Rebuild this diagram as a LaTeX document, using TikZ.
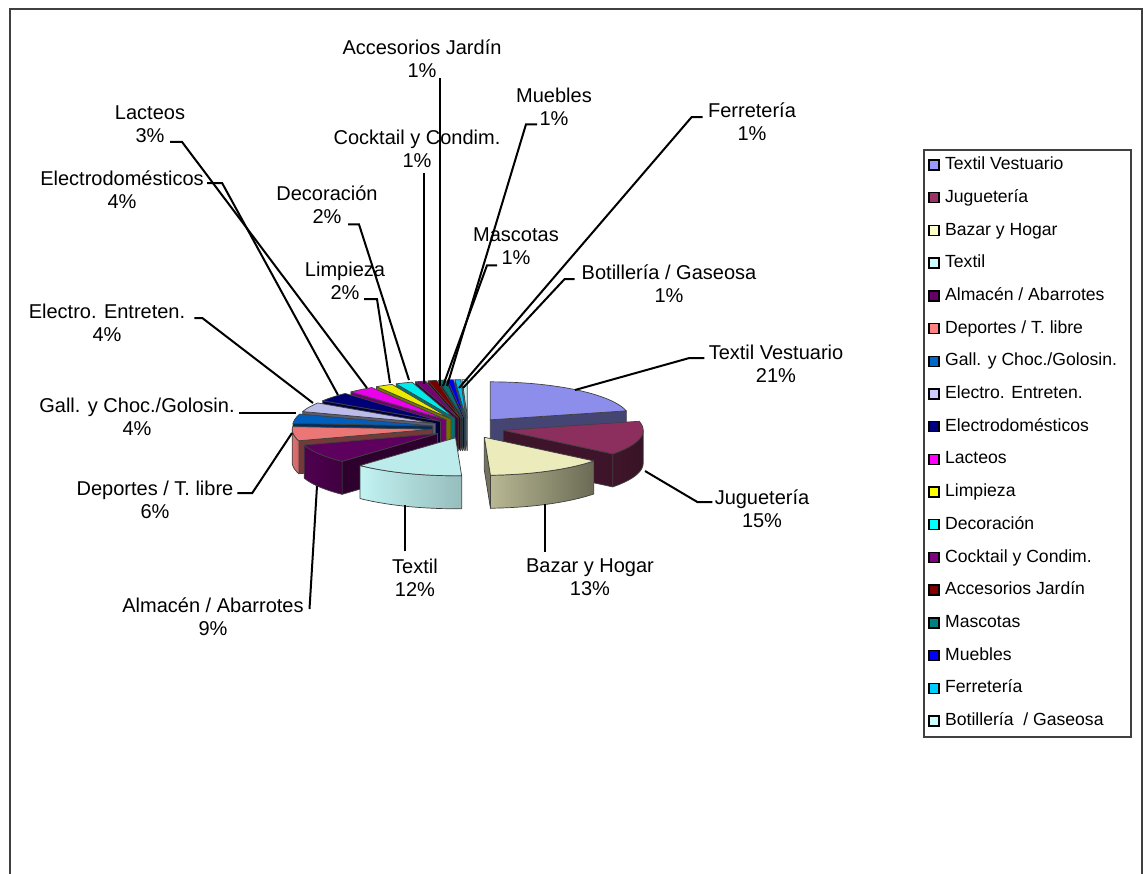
\documentclass[tikz,border=0pt]{standalone}
\usepackage{fontspec}
\setmainfont{Liberation Sans}
\usetikzlibrary{positioning}

\definecolor{cTV}{HTML}{9999FF}
\definecolor{cJug}{HTML}{993366}
\definecolor{cBaz}{HTML}{FFFFCC}
\definecolor{cTex}{HTML}{CCFFFF}
\definecolor{cAlm}{HTML}{660066}
\definecolor{cDep}{HTML}{FF8080}
\definecolor{cGal}{HTML}{0066CC}
\definecolor{cEE}{HTML}{CCCCFF}
\definecolor{cElec}{HTML}{000080}
\definecolor{cLac}{HTML}{FF00FF}
\definecolor{cLim}{HTML}{FFFF00}
\definecolor{cDec}{HTML}{00FFFF}
\definecolor{cCoc}{HTML}{800080}
\definecolor{cAcc}{HTML}{800000}
\definecolor{cMas}{HTML}{008080}
\definecolor{cMue}{HTML}{0000FF}
\definecolor{cFer}{HTML}{00CCFF}
\definecolor{cBot}{HTML}{CCFFFF}

\tikzset{
  pieedge/.style={draw=black!75, line width=0.35pt, line join=round},
  plabel/.style={font=\fontsize{10}{11.5}\selectfont, align=center, inner sep=0pt},
  leader/.style={line width=1pt},
  legkey/.style={draw=black, line width=0.7pt, minimum size=5pt, inner sep=0pt},
  legtext/.style={font=\fontsize{8.8}{10}\selectfont, inner sep=0pt,
    text height=6.4pt, text depth=1.8pt}
}

% top of a slice: from, to, colour
\newcommand{\pieTop}[3]{%
  \pgfmathsetmacro{\slmid}{(#1+#2)/2}
  \filldraw[pieedge, fill=#3!92!black] ({pcx(\slmid)},{pcy(\slmid)})
    -- plot[domain=#1:#2, samples=40, variable=\ang] ({pcx(\slmid)+140*cos(\ang)},{pcy(\slmid)-38*sin(\ang)}) -- cycle;}
% cut face of a slice: from, to, face angle, shade
\newcommand{\pieSide}[4]{%
  \pgfmathsetmacro{\slmid}{(#1+#2)/2}
  \filldraw[pieedge, fill=#4] ({pcx(\slmid)},{pcy(\slmid)})
    -- ({pcx(\slmid)+140*cos(#3)},{pcy(\slmid)-38*sin(#3)}) -- ++(0,33)
    -- ({pcx(\slmid)},{pcy(\slmid)+33}) -- cycle;}
% outer wall of a slice: from, to, wall from, wall to, left shade, right shade
\newcommand{\pieRim}[6]{%
  \pgfmathsetmacro{\slmid}{(#1+#2)/2}
  \draw[pieedge, left color=#5, right color=#6]
    plot[domain=#3:#4, samples=30, variable=\ang] ({pcx(\slmid)+140*cos(\ang)},{pcy(\slmid)-38*sin(\ang)})
    -- plot[domain=#4:#3, samples=30, variable=\ang] ({pcx(\slmid)+140*cos(\ang)},{pcy(\slmid)-38*sin(\ang)+33}) -- cycle;}

\begin{document}
\begin{tikzpicture}[x=0.5pt, y=-0.5pt,
    declare function={pcx(\m)=468+36*cos(\m); pcy(\m)=428-10.4*sin(\m);}]
    \useasboundingbox (0,0) rectangle (1144,873);
    \draw[black!75, line width=0.6pt] (10,880) -- (10,9) -- (1142,9) -- (1142,880);

    % slices, back to front
    \pieSide{90}{92.16}{92.16}{cBot!45!black} \pieTop{90}{92.16}{cBot}
    \pieSide{92.16}{94.5}{94.5}{cFer!45!black} \pieTop{92.16}{94.5}{cFer}
    \pieSide{94.5}{97.02}{97.02}{cMue!45!black} \pieTop{94.5}{97.02}{cMue}
    \pieSide{97.02}{99.9}{99.9}{cMas!45!black} \pieTop{97.02}{99.9}{cMas}
    \pieSide{99.9}{103.5}{103.5}{cAcc!45!black} \pieTop{99.9}{103.5}{cAcc}
    \pieSide{103.5}{107.82}{107.82}{cCoc!45!black} \pieTop{103.5}{107.82}{cCoc}
    \pieSide{107.82}{114.84}{114.84}{cDec!45!black} \pieTop{107.82}{114.84}{cDec}
    \pieSide{114.84}{122.04}{122.04}{cLim!45!black} \pieTop{114.84}{122.04}{cLim}
    \pieSide{122.04}{132.84}{132.84}{cLac!45!black} \pieTop{122.04}{132.84}{cLac}
    \pieSide{13.68}{90}{13.68}{cTV!45!black} \pieTop{13.68}{90}{cTV}
    \pieSide{132.84}{147.24}{147.24}{cElec!45!black} \pieTop{132.84}{147.24}{cElec}
    \pieSide{147.24}{161.64}{161.64}{cEE!45!black} \pieTop{147.24}{161.64}{cEE}
    \pieSide{161.64}{176.04}{176.04}{cGal!45!black} \pieTop{161.64}{176.04}{cGal}
    \pieSide{176.04}{197.64}{197.64}{cDep!45!black}
    \pieRim{176.04}{197.64}{180}{197.64}{cDep!88!black}{cDep!80!black}
    \pieTop{176.04}{197.64}{cDep}
    \pieSide{-38.52}{13.68}{-38.52}{cJug!40!black}
    \pieRim{-38.52}{13.68}{-38.52}{0}{cJug!42!black}{cJug!36!black}
    \pieTop{-38.52}{13.68}{cJug}
    \pieSide{197.64}{227}{227}{cAlm!45!black}
    \pieRim{197.64}{227}{197.64}{227}{cAlm!78!black}{cAlm!62!black}
    \pieTop{197.64}{227}{cAlm}
    \pieSide{-87.5}{-38.52}{-87.5}{cBaz!45!black}
    \pieRim{-87.5}{-38.52}{-87.5}{-38.52}{cBaz!72!black}{cBaz!42!black}
    \pieTop{-87.5}{-38.52}{cBaz}
    \pieRim{-133}{-87.5}{-133}{-87.5}{cTex!95!black}{cTex!74!black}
    \pieTop{-133}{-87.5}{cTex}

    \coordinate (sTV) at (575,390);
    \coordinate (sJug) at (645,471);
    \coordinate (sBaz) at (545,504);
    \coordinate (sTex) at (405,505);
    \coordinate (sAlm) at (317,486);
    \coordinate (sDep) at (292,433);
    \coordinate (sGal) at (296,413);
    \coordinate (sEE) at (313,403);
    \coordinate (sElec) at (338,395);
    \coordinate (sLac) at (367,388);
    \coordinate (sLim) at (390,383);
    \coordinate (sDec) at (409,380);
    \coordinate (sCoc) at (424,384);
    \coordinate (sAcc) at (440,386);
    \coordinate (sMas) at (443,386);
    \coordinate (sMue) at (447,386);
    \coordinate (sFer) at (459,388);
    \coordinate (sBot) at (463,388);

    \node[plabel] (lTV) at (776,363.5) {Textil Vestuario\\21\%};
    \node[plabel] (lJug) at (762,509) {Juguetería\\15\%};
    \node[plabel] (lBaz) at (590,577.5) {Bazar y Hogar\\13\%};
    \node[plabel] (lTex) at (415,577.5) {Textil\\12\%};
    \node[plabel] (lAlm) at (213,616.5) {Almacén / Abarrotes\\9\%};
    \node[plabel] (lDep) at (155,499.5) {Deportes / T. libre\\6\%};
    \node[plabel] (lGal) at (137,417) {Gall. y Choc./Golosin.\\4\%};
    \node[plabel] (lEE) at (107,323) {Electro. Entreten.\\4\%};
    \node[plabel] (lElec) at (122,190) {Electrodomésticos\\4\%};
    \node[plabel] (lLac) at (150,124) {Lacteos\\3\%};
    \node[plabel] (lLim) at (345,281) {Limpieza\\2\%};
    \node[plabel] (lDec) at (327,204.5) {Decoración\\2\%};
    \node[plabel] (lCoc) at (417,149) {Cocktail y Condim.\\1\%};
    \node[plabel] (lAcc) at (422,58.5) {Accesorios Jardín\\1\%};
    \node[plabel] (lMue) at (554,106.5) {Muebles\\1\%};
    \node[plabel] (lFer) at (752,121.5) {Ferretería\\1\%};
    \node[plabel] (lMas) at (516,246.5) {Mascotas\\1\%};
    \node[plabel] (lBot) at (669,284) {Botillería / Gaseosa\\1\%};

    \draw[leader] (lTV.west) ++(-4,-5.5) -- ++(-15,0) -- (sTV);
    \draw[leader] (lJug.west) ++(-2,-7) -- ++(-15,0) -- (sJug);
    \draw[leader] (lBaz.north) ++(-45,-7) -- (sBaz);
    \draw[leader] (lTex.north) ++(-10,-7) -- (sTex);
    \draw[leader] (lAlm.east) ++(5.5,-7.5) -- (sAlm);
    \draw[leader] (lDep.east) ++(3.5,-6.5) -- ++(15,0) -- (sDep);
    \draw[leader] (lGal.east) ++(4,-4) -- (sGal);
    \draw[leader] (lEE.east) ++(8.7,-5) -- ++(8,0) -- (sEE);
    \draw[leader] (lElec.east) ++(3,-7) -- ++(15,0) -- (sElec);
    \draw[leader] (lLac.south) ++(20,-1) -- ++(12,0) -- (sLac);
    \draw[leader] (lLim.south) ++(19,-1) -- ++(13,0) -- (sLim);
    \draw[leader] (lDec.south) ++(21,0.6) -- ++(11,0) -- (sDec);
    \draw[leader] (lCoc.south) ++(7,5) -- (sCoc);
    \draw[leader] (lAcc.south) ++(18,0.5) -- (sAcc);
    \draw[leader] (lMue.south) ++(-17,-1.4) -- ++(-11,0) -- (sMue);
    \draw[leader] (lFer.west) ++(-5,-4.5) -- ++(-11,0) -- (sFer);
    \draw[leader] (lMas.south) ++(-19,0) -- ++(-10,0) -- (sMas);
    \draw[leader] (lBot.west) ++(-6.7,-5) -- ++(-10,0) -- (sBot);

    % legend
    \draw[black!75, line width=0.6pt, fill=white] (924,150) rectangle (1131,737);
    \foreach \c/\lbl [count=\i from 0] in {cTV/Textil Vestuario, cJug/Juguetería,
        cBaz/Bazar y Hogar, cTex/Textil, cAlm/{Almacén / Abarrotes},
        cDep/{Deportes / T. libre}, cGal/{Gall. y Choc./Golosin.},
        cEE/{Electro. Entreten.}, cElec/Electrodomésticos, cLac/Lacteos,
        cLim/Limpieza, cDec/Decoración, cCoc/{Cocktail y Condim.},
        cAcc/{Accesorios Jardín}, cMas/Mascotas, cMue/Muebles, cFer/Ferretería,
        cBot/{Botillería\ \ / Gaseosa}}{
      \node[legkey, fill=\c] (k\i) at (934,{165+32.7*\i}) {};
      \node[legtext, right=2.5pt of k\i] (g\i) {\lbl};
    }
\end{tikzpicture}
\end{document}
